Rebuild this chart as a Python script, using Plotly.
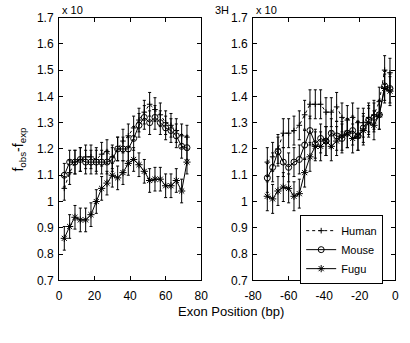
import plotly.graph_objects as go

# ---- data ----
pos_left = [3, 6, 9, 12, 15, 18, 21, 24, 27, 30, 33, 36, 39, 42, 45, 48, 51, 54, 57, 60, 63, 66, 69, 72]
human_left = [1.05, 1.11, 1.15, 1.16, 1.17, 1.17, 1.16, 1.18, 1.19, 1.17, 1.20, 1.23, 1.25, 1.28, 1.31, 1.34, 1.37, 1.35, 1.33, 1.30, 1.29, 1.27, 1.25, 1.245]
mouse_left = [1.10, 1.15, 1.15, 1.16, 1.15, 1.15, 1.15, 1.15, 1.15, 1.16, 1.20, 1.20, 1.20, 1.24, 1.29, 1.32, 1.30, 1.32, 1.30, 1.28, 1.27, 1.25, 1.21, 1.205]
fugu_left = [0.86, 0.905, 0.94, 0.93, 0.93, 0.95, 1.00, 1.05, 1.07, 1.10, 1.09, 1.11, 1.145, 1.16, 1.14, 1.115, 1.08, 1.085, 1.085, 1.06, 1.06, 1.08, 1.04, 1.15]

pos_right = [-72, -69, -66, -63, -60, -57, -54, -51, -48, -45, -42, -39, -36, -33, -30, -27, -24, -21, -18, -15, -12, -9, -6, -3]
human_right = [1.15, 1.17, 1.20, 1.26, 1.26, 1.27, 1.29, 1.33, 1.37, 1.37, 1.37, 1.34, 1.34, 1.36, 1.32, 1.31, 1.32, 1.30, 1.30, 1.32, 1.33, 1.38, 1.50, 1.49]
mouse_right = [1.09, 1.13, 1.19, 1.15, 1.13, 1.15, 1.16, 1.215, 1.27, 1.22, 1.24, 1.23, 1.26, 1.25, 1.24, 1.26, 1.27, 1.25, 1.28, 1.31, 1.32, 1.33, 1.44, 1.43]
fugu_right = [1.02, 1.01, 1.04, 1.055, 1.05, 1.02, 1.03, 1.11, 1.17, 1.21, 1.21, 1.23, 1.21, 1.23, 1.25, 1.26, 1.24, 1.25, 1.27, 1.30, 1.29, 1.33, 1.43, 1.42]

err_left = 0.045
err_right = 0.055

series_names = ["Human", "Mouse", "Fugu"]
x_ticks_left = [0, 20, 40, 60, 80]
x_ticks_right = [-80, -60, -40, -20, 0]
x_ticktext_right = ["-80", "-60", "-40", "-20", "0"]
y_ticks = [0.7, 0.8, 0.9, 1.0, 1.1, 1.2, 1.3, 1.4, 1.5, 1.6, 1.7]
y_ticktext = ["0.7", "0.8", "0.9", "1", "1.1", "1.2", "1.3", "1.4", "1.5", "1.6", "1.7"]

styles = {
    "Human": dict(symbol="cross-thin", size=4, dash="dot"),
    "Mouse": dict(symbol="circle-open", size=6, dash="solid"),
    "Fugu": dict(symbol="asterisk-open", size=6, dash="solid"),
}

FONT = "Liberation Sans, Arial, sans-serif"
fig = go.Figure()

def add(xs, ys, name, err, xa, ya, showleg):
    st = styles[name]
    fig.add_trace(go.Scatter(
        x=xs, y=ys, name=name, mode="lines+markers",
        xaxis=xa, yaxis=ya, showlegend=showleg,
        line=dict(color="black", width=1, dash=st["dash"]),
        marker=dict(symbol=st["symbol"], size=st["size"], color="black",
                    line=dict(color="black", width=1)),
        error_y=dict(type="constant", value=err, color="black", thickness=1, width=1.5),
    ))

for name, yl in zip(series_names, [human_left, mouse_left, fugu_left]):
    add(pos_left, yl, name, err_left, "x", "y", False)
for name, yr in zip(series_names, [human_right, mouse_right, fugu_right]):
    add(pos_right, yr, name, err_right, "x2", "y2", True)

W, H = 410, 343
def px(xp):
    return xp / W
def py(yp):
    return 1 - yp / H

axis_common = dict(showline=True, linecolor="black", linewidth=1, mirror="ticks",
                   ticks="inside", ticklen=4, tickcolor="black", showgrid=False,
                   zeroline=False, tickfont=dict(family=FONT, size=12, color="black"))

fig.update_layout(
    width=W, height=H,
    margin=dict(l=0, r=0, t=0, b=0),
    paper_bgcolor="white", plot_bgcolor="white",
    font=dict(family=FONT, color="black"),
    xaxis=dict(domain=[px(52), px(200)], range=[0, 80], tickvals=x_ticks_left,
               anchor="y", ticklabelstandoff=4, **axis_common),
    yaxis=dict(domain=[py(285), py(11)], range=[0.7, 1.7], tickvals=y_ticks,
               ticktext=y_ticktext, anchor="x", ticklabelstandoff=2, **axis_common),
    xaxis2=dict(domain=[px(254), px(402)], range=[-80, 0], tickvals=x_ticks_right,
                ticktext=x_ticktext_right, anchor="y2", ticklabelstandoff=4, **axis_common),
    yaxis2=dict(domain=[py(285), py(11)], range=[0.7, 1.7], tickvals=y_ticks,
                ticktext=y_ticktext, anchor="x2", ticklabelstandoff=2, **axis_common),
    legend=dict(x=px(303), y=py(217), xanchor="left", yanchor="top",
                bgcolor="white", bordercolor="black", borderwidth=1,
                font=dict(family=FONT, size=11, color="black"),
                tracegroupgap=0, itemwidth=30),
    annotations=[
        dict(text="Exon Position (bp)", x=px(231), y=py(317), xref="paper", yref="paper",
             xanchor="center", yanchor="middle",
             showarrow=False, font=dict(family=FONT, size=13, color="black")),
        dict(text="f<sub>obs</sub>-f<sub>exp</sub>", x=px(10), y=py(148), xref="paper",
             yref="paper", textangle=-90, xanchor="center", yanchor="middle", showarrow=False,
             font=dict(family=FONT, size=14, color="black")),
        dict(text="x 10", x=px(53), y=py(3), xref="paper", yref="paper", xanchor="left",
             yanchor="middle", showarrow=False, font=dict(family=FONT, size=11, color="black")),
        dict(text="x 10", x=px(255), y=py(3), xref="paper", yref="paper", xanchor="left",
             yanchor="middle", showarrow=False, font=dict(family=FONT, size=11, color="black")),
        dict(text="3H", x=px(222), y=py(3), xref="paper", yref="paper",
             xanchor="center", yanchor="middle",
             showarrow=False, font=dict(family=FONT, size=11, color="black")),
    ],
)

fig.write_html("out.html")
